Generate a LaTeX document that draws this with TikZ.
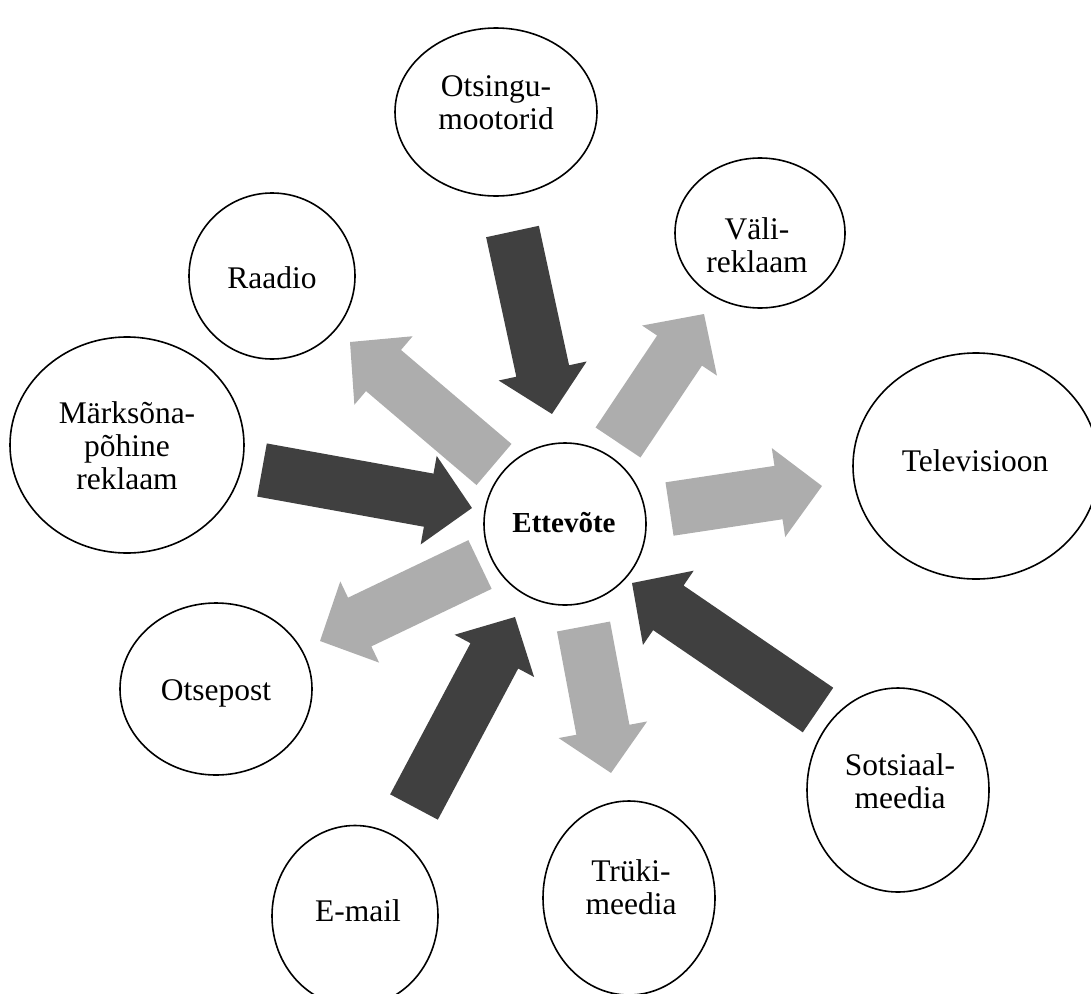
\documentclass[tikz,border=0pt]{standalone}
\usepackage{fontspec}
\setmainfont{Liberation Serif}
\usetikzlibrary{shapes.geometric,calc}
\definecolor{darkarr}{RGB}{64,64,64}
\definecolor{lightarr}{RGB}{173,173,173}
\tikzset{
  bubble/.style={draw=black, line width=1.6pt, ellipse, inner sep=0pt, fill=white},
  lbl/.style={anchor=base, inner sep=0pt, font=\fontsize{31.5}{33}\selectfont},
  hublbl/.style={anchor=base, inner sep=0pt, font=\fontsize{29}{31}\selectfont\bfseries},
}
\newcommand{\blockarrow}[3]{%
  \fill[#1] let \p1=(#2), \p2=(#3), \n1={atan2(\y2-\y1,\x2-\x1)}, \n2={veclen(\x2-\x1,\y2-\y1)} in
    [shift={(\p1)}, rotate=\n1]
    (0,-27) -- ({\n2-44},-27) -- ({\n2-44},-45) -- (\n2,0) -- ({\n2-44},45) -- ({\n2-44},27) -- (0,27) -- cycle;
}
\newcommand{\twolines}[2]{\begin{tabular}[t]{@{}c@{}}#1\\#2\end{tabular}}
\newcommand{\threelines}[3]{\begin{tabular}[t]{@{}c@{}}#1\\#2\\#3\end{tabular}}
\begin{document}
\begin{tikzpicture}[x=1pt,y=-1pt]
\useasboundingbox (0,0) rectangle (1091,993);
\begin{scope}
\clip (0,0) rectangle (1091,993);
% shapes
\node[bubble, minimum width=162pt, minimum height=162pt] (hub) at (565,524) {};
\node[bubble, minimum width=202pt, minimum height=168pt] (otsingu) at (496,112) {};
\node[bubble, minimum width=170pt, minimum height=150pt] (vali) at (760,233) {};
\node[bubble, minimum width=166pt, minimum height=166pt] (raadio) at (272,276) {};
\node[bubble, minimum width=234pt, minimum height=216pt] (marksona) at (127,445) {};
\node[bubble, minimum width=246pt, minimum height=226pt] (tele) at (976,466) {};
\node[bubble, minimum width=192pt, minimum height=172pt] (otsepost) at (216,689) {};
\node[bubble, minimum width=166pt, minimum height=181pt] (email) at (355,916) {};
\node[bubble, minimum width=172pt, minimum height=194pt] (truki) at (629,898) {};
\node[bubble, minimum width=182pt, minimum height=204pt] (sotsiaal) at (898,790) {};
\end{scope}
% labels
\node[hublbl] (thub) at (564,532.7) {Ettevõte};
\node[lbl] (totsingu) at (496,96.7) {\twolines{Otsingu-}{mootorid}};
\node[lbl] (tvali) at (757,239) {\twolines{Väli-}{reklaam}};
\node[lbl] (traadio) at (272,288) {Raadio};
\node[lbl] (tmarksona) at (127,423.3) {\threelines{Märksõna-}{põhine}{reklaam}};
\node[lbl] (ttele) at (975,471.7) {Televisioon};
\node[lbl] (totsepost) at (216,700) {Otsepost};
\node[lbl] (temail) at (358,921) {E-mail};
\node[lbl] (ttruki) at (631,881.7) {\twolines{Trüki-}{meedia}};
\node[lbl] (tsotsiaal) at (900,775.7) {\twolines{Sotsiaal-}{meedia}};
% arrow end points
\coordinate (a1s) at (512.5,231.5); \coordinate (a1e) at (552,414);
\coordinate (a2s) at (494,464.5);   \coordinate (a2e) at (350,342);
\coordinate (a3s) at (262,470);     \coordinate (a3e) at (472,508);
\coordinate (a4s) at (618,442.5);   \coordinate (a4e) at (704,314);
\coordinate (a5s) at (669.5,509);   \coordinate (a5e) at (822,486);
\coordinate (a6s) at (480,564.5);   \coordinate (a6e) at (320,641);
\coordinate (a7s) at (414,807);     \coordinate (a7e) at (515,617);
\coordinate (a8s) at (583.5,626.5); \coordinate (a8e) at (611,773);
\coordinate (a9s) at (818,710);     \coordinate (a9e) at (632,583);
\blockarrow{darkarr}{a1s}{a1e}
\blockarrow{lightarr}{a2s}{a2e}
\blockarrow{darkarr}{a3s}{a3e}
\blockarrow{lightarr}{a4s}{a4e}
\blockarrow{lightarr}{a5s}{a5e}
\blockarrow{lightarr}{a6s}{a6e}
\blockarrow{darkarr}{a7s}{a7e}
\blockarrow{lightarr}{a8s}{a8e}
\blockarrow{darkarr}{a9s}{a9e}
\end{tikzpicture}
\end{document}
